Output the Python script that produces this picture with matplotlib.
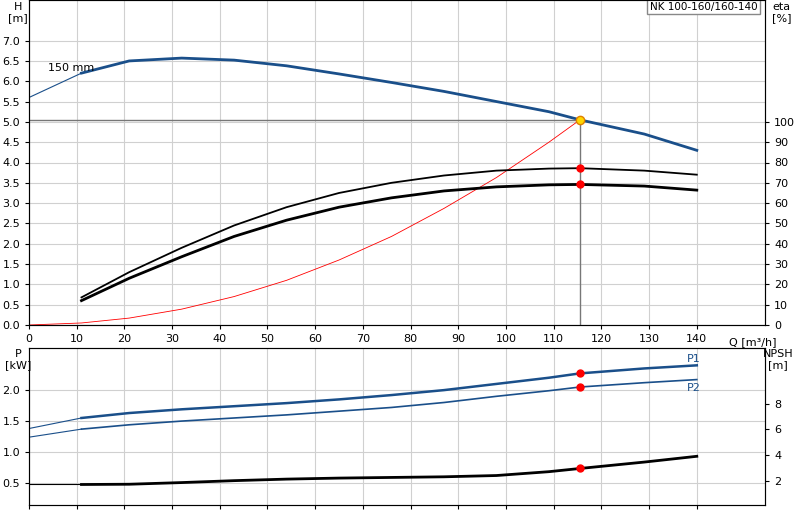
import matplotlib
matplotlib.use("Agg")
import matplotlib.pyplot as plt
import numpy as np

q = [11, 21, 32, 43, 54, 65, 76, 87, 98, 109, 115.5, 129, 140]
head = [6.2, 6.5, 6.57, 6.52, 6.38, 6.18, 5.97, 5.75, 5.5, 5.25, 5.05, 4.7, 4.3]
head_start = 5.6
eta_upper = [13.6, 26, 38, 49, 58, 65, 70, 73.6, 76, 77, 77.2, 76, 74]
eta_lower = [12, 23, 33.6, 43.6, 51.6, 58, 62.6, 66, 68, 69, 69.2, 68.4, 66.4]
q_sys = [0, 11, 21, 32, 43, 54, 65, 76, 87, 98, 109, 115.5]
h_sys = [0, 0.05, 0.17, 0.39, 0.7, 1.1, 1.6, 2.18, 2.87, 3.63, 4.5, 5.05]
p1 = [1.55, 1.63, 1.69, 1.74, 1.79, 1.85, 1.92, 2.0, 2.1, 2.2, 2.27, 2.35, 2.4]
p2 = [1.37, 1.44, 1.5, 1.55, 1.6, 1.66, 1.72, 1.8, 1.9, 1.99, 2.05, 2.12, 2.17]
p1_start, p2_start = 1.38, 1.24
npsh = [1.7, 1.72, 1.85, 2.0, 2.12, 2.2, 2.25, 2.3, 2.4, 2.7, 2.95, 3.45, 3.9]
npsh_start = 1.7
duty_q, duty_h = 115.5, 5.05
idx = q.index(duty_q)

blue = "#1a4f8a"
fig = plt.figure(figsize=(8, 5.2), dpi=100)
ax = fig.add_axes([29/800, 1-325/520, 736/800, 325/520])
axb = fig.add_axes([29/800, 1-505/520, 736/800, 157/520])
xmax = 736/4.77

for a in (ax, axb):
    a.set_xlim(0, xmax)
    a.set_xticks(np.arange(0, 150, 10))
    a.grid(True, color="#d0d0d0", lw=0.8)
    a.tick_params(labelsize=8, length=3)
    for s in a.spines.values():
        s.set_color("#555555")

ax.set_ylim(0, 8.0)
ax.set_yticks(np.arange(0, 7.01, 0.5))
ax.set_yticklabels([f"{v:.1f}" for v in np.arange(0, 7.01, 0.5)])
ax.set_xticklabels([str(v) for v in range(0, 150, 10)])
ax.plot([0, q[0]], [head_start, head[0]], color=blue, lw=0.8)
ax.plot(q, head, color=blue, lw=2)
ax.plot(q_sys, h_sys, color="red", lw=0.6)
ax.plot([duty_q, duty_q], [0, duty_h], color="#777777", lw=1)
ax.plot([0, duty_q], [duty_h, duty_h], color="#777777", lw=1)
ax.plot(duty_q, duty_h, "o", color="#ffd700", mec="#e08000", ms=6, zorder=5)
ax.text(4, 6.25, "150 mm", fontsize=8)
ax.text(-0.015, 0.995, "H\n[m]", transform=ax.transAxes, fontsize=8, ha="center", va="top")
ax.text(151.8, -0.3, "Q [m³/h]", fontsize=8, ha="center", va="top")
ax.text(0.99, 0.995, "NK 100-160/160-140", transform=ax.transAxes, fontsize=7.5,
        ha="right", va="top", bbox=dict(facecolor="white", edgecolor="#888888", pad=2))

ax2 = ax.twinx()
ax2.set_ylim(0, 160)
ax2.set_yticks(np.arange(0, 101, 10))
ax2.tick_params(labelsize=8, length=3)
ax2.plot(q, eta_upper, color="black", lw=1.3)
ax2.plot(q, eta_lower, color="black", lw=2)
ax2.plot(duty_q, eta_upper[idx], "o", color="red", ms=5)
ax2.plot(duty_q, eta_lower[idx], "o", color="red", ms=5)
ax2.text(1.01, 0.995, "eta\n[%]", transform=ax.transAxes, fontsize=8, ha="left", va="top")

axb.set_ylim(0.145, 2.68)
axb.set_yticks([0.5, 1.0, 1.5, 2.0])
axb.set_yticklabels(["0.5", "1.0", "1.5", "2.0"])
axb.set_xticklabels([])
axb.plot([0, q[0]], [p1_start, p1[0]], color=blue, lw=0.8)
axb.plot([0, q[0]], [p2_start, p2[0]], color=blue, lw=0.8)
axb.plot(q, p1, color=blue, lw=1.8)
axb.plot(q, p2, color=blue, lw=1.2)
axb.plot(duty_q, p1[idx], "o", color="red", ms=5)
axb.plot(duty_q, p2[idx], "o", color="red", ms=5)
axb.text(138, 2.46, "P1", color=blue, fontsize=8)
axb.text(138, 1.98, "P2", color=blue, fontsize=8)
axb.text(-0.015, 0.995, "P\n[kW]", transform=axb.transAxes, fontsize=8, ha="center", va="top")

axn = axb.twinx()
axn.set_ylim(0.1, 12.35)
axn.set_yticks([2, 4, 6, 8])
axn.tick_params(labelsize=8, length=3)
axn.plot([0, q[0]], [npsh_start, npsh[0]], color="black", lw=0.8)
axn.plot(q, npsh, color="black", lw=2)
axn.plot(duty_q, npsh[idx], "o", color="red", ms=5)
axn.text(1.018, 0.995, "NPSH\n[m]", transform=axb.transAxes, fontsize=8, ha="center", va="top")

fig.savefig("out.png", dpi=100)
